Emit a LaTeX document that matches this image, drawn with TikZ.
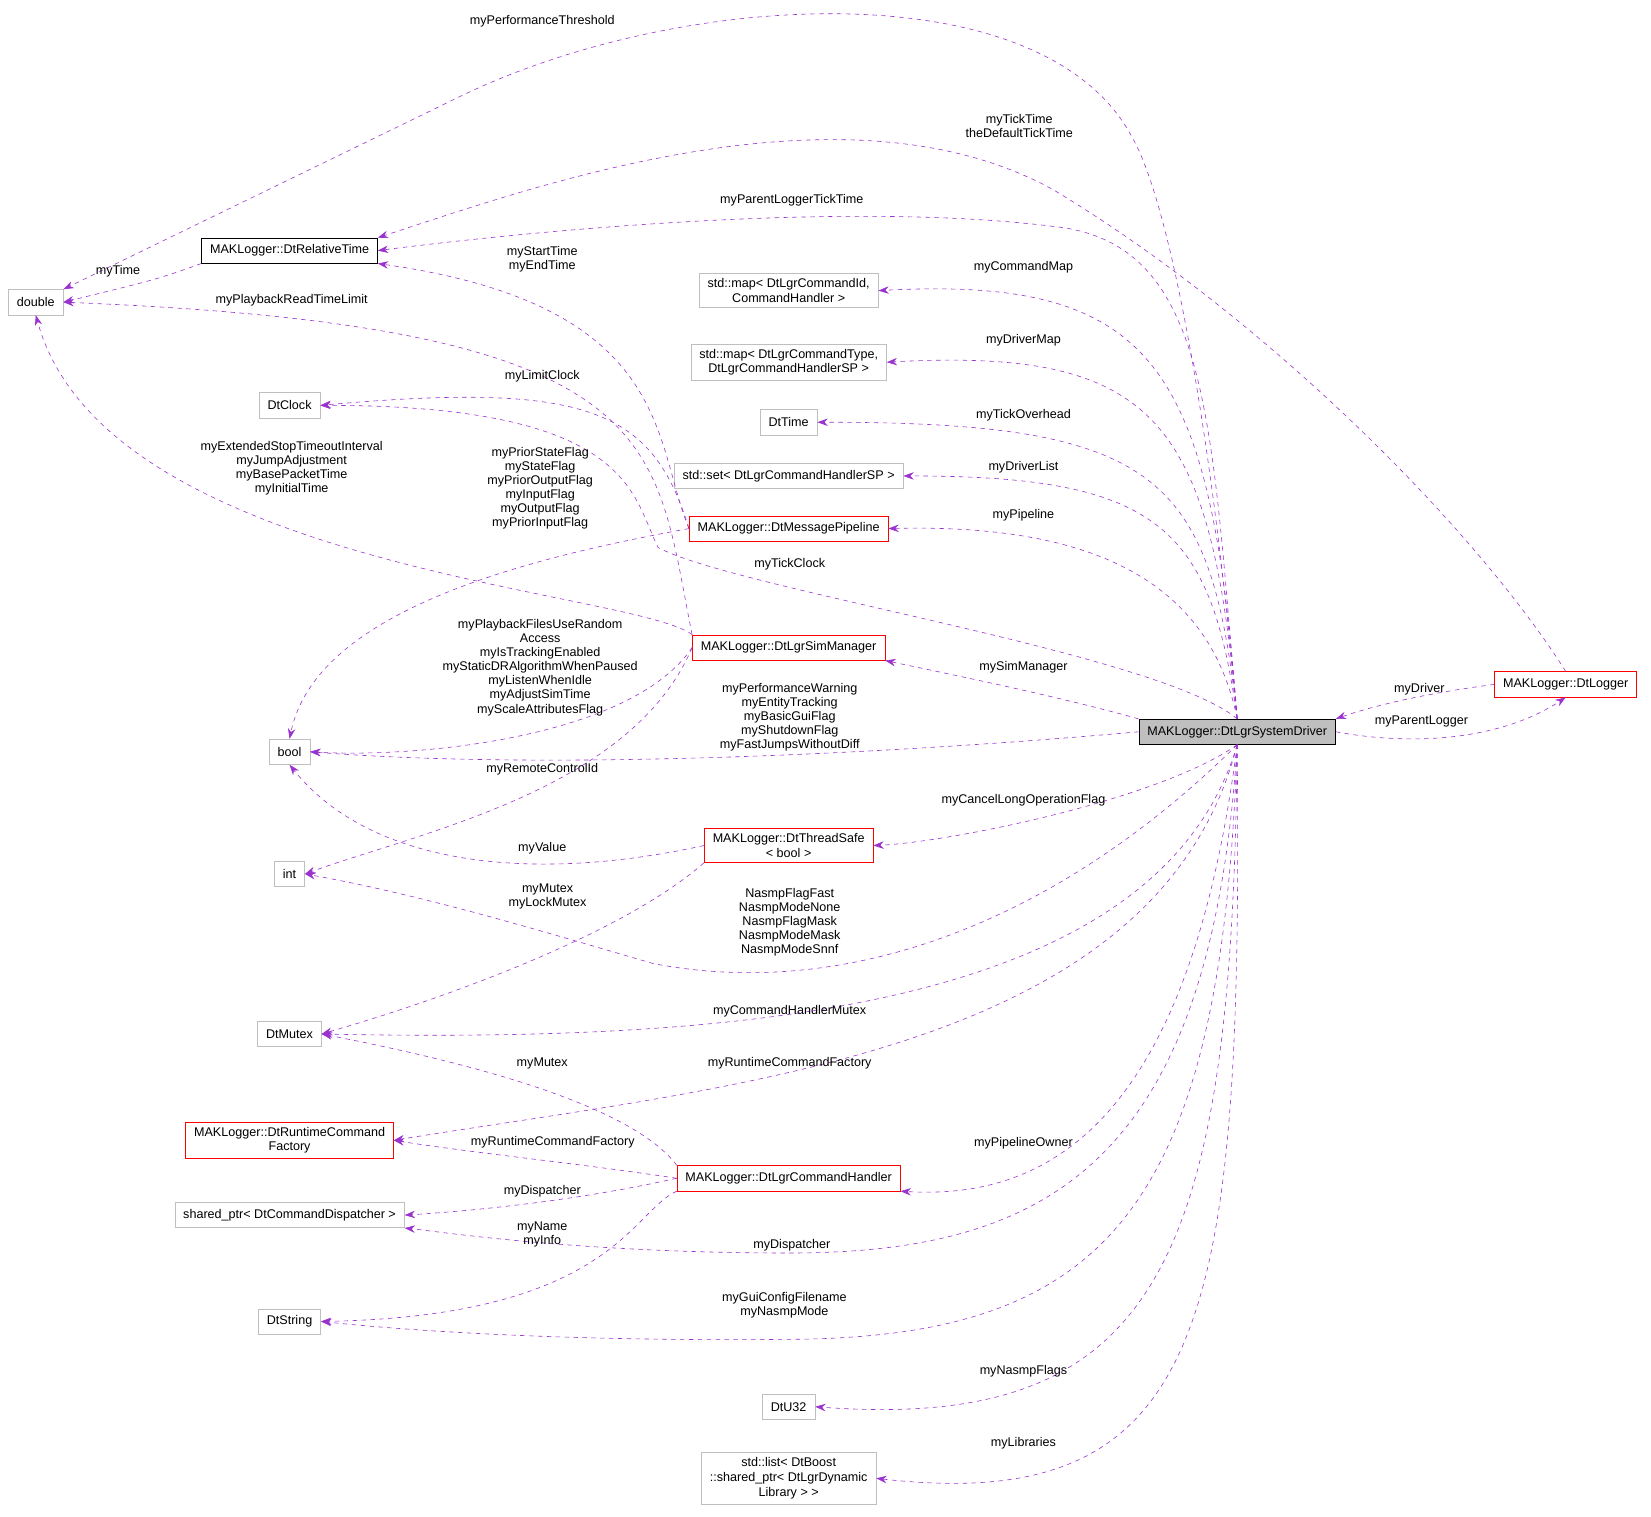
\documentclass[tikz,border=0pt]{standalone}
\usepackage{fontspec}
\setmainfont{Liberation Sans}
\usetikzlibrary{arrows.meta}
\definecolor{edgepurple}{HTML}{9A32CD}
\definecolor{boxgray}{HTML}{BFBFBF}
\tikzset{
  cls/.style={draw=boxgray, fill=white, font=\fontsize{8.5}{10}\selectfont, align=center,
    inner xsep=0.2cm, minimum height=0.6cm},
  redcls/.style={cls, draw=red},
  refcls/.style={cls, draw=black},
  maincls/.style={cls, draw=black, fill=boxgray},
  uses/.style={draw=edgepurple, dashed, -{Stealth[length=7pt,width=5pt]}, fill=none},
  lbl/.style={font=\fontsize{8.5}{9.5}\selectfont, align=center, inner sep=0pt}
}
\begin{document}
\begin{tikzpicture}[x=0.025cm, y=-0.025cm]
    \useasboundingbox (0,0) rectangle (1568,1440);

    % classes
    \node[maincls] (drv) at (1175,695) {MAKLogger::DtLgrSystemDriver};
    \node[redcls] (log) at (1487,650) {MAKLogger::DtLogger};
    \node[cls] (dbl) at (34,287) {double};
    \node[refcls] (rel) at (275,238) {MAKLogger::DtRelativeTime};
    \node[cls] (clk) at (275,385) {DtClock};
    \node[cls] (bool) at (275,714) {bool};
    \node[cls] (int) at (275,830) {int};
    \node[cls] (mtx) at (275,982) {DtMutex};
    \node[redcls] (rcf) at (275,1083) {MAKLogger::DtRuntimeCommand\\Factory};
    \node[cls] (sp) at (275,1154) {shared\_ptr< DtCommandDispatcher >};
    \node[cls] (dstr) at (275,1255) {DtString};
    \node[cls] (cmap) at (749,276) {std::map< DtLgrCommandId,\\CommandHandler >};
    \node[cls] (dmap) at (749,344) {std::map< DtLgrCommandType,\\DtLgrCommandHandlerSP >};
    \node[cls] (tim) at (749,401) {DtTime};
    \node[cls] (set) at (749,452) {std::set< DtLgrCommandHandlerSP >};
    \node[redcls] (pipe) at (749,502) {MAKLogger::DtMessagePipeline};
    \node[redcls] (sim) at (749,615) {MAKLogger::DtLgrSimManager};
    \node[redcls] (ts) at (749,803) {MAKLogger::DtThreadSafe\\< bool >};
    \node[redcls] (ch) at (749,1119) {MAKLogger::DtLgrCommandHandler};
    \node[cls] (u32) at (749,1336) {DtU32};
    \node[cls] (lst) at (749,1404) {std::list< DtBoost\\::shared\_ptr< DtLgrDynamic\\Library > >};

    % members
    \draw[uses] (drv.north) .. controls (1150,400) and (1110,190) .. (1075,130) .. controls (990,-30) and (640,-10) .. (430,95) -- (dbl.north east);
    \draw[uses] (drv.north) .. controls (1150,400) and (1150,230) .. (1000,215) .. controls (800,190) and (500,220) .. (rel.east);
    \draw[uses] (log.north) .. controls (1400,500) and (1200,300) .. (1000,180) .. controls (800,70) and (500,180) .. (rel.north east);
    \draw[uses] (rel.south west) .. controls (150,265) .. (dbl.east);
    \draw[uses] (pipe.west) .. controls (620,420) and (640,290) .. (rel.south east);
    \draw[uses] (sim.north west) .. controls (620,420) and (640,310) .. (dbl.east);
    \draw[uses] (pipe.west) .. controls (620,390) and (560,362) .. (clk.east);
    \draw[uses] (drv.north) .. controls (1100,620) and (700,560) .. (625,520) .. controls (600,470) and (600,385) .. (clk.east);
    \draw[uses] (sim.north west) .. controls (600,560) and (100,540) .. (dbl.south);
    \draw[uses] (pipe.west) .. controls (500,530) and (300,580) .. (bool.north);
    \draw[uses] (sim.west) .. controls (600,700) and (400,720) .. (bool.east);
    \draw[uses] (sim.west) .. controls (600,750) and (400,790) .. (int.east);
    \draw[uses] (drv.west) .. controls (800,720) and (500,730) .. (bool.east);
    \draw[uses] (ts.west) .. controls (500,840) and (350,820) .. (bool.south);
    \draw[uses] (drv.north west) .. controls (1000,660) and (900,640) .. (sim.south east);
    \draw[uses] (drv.south) .. controls (1100,760) and (900,800) .. (ts.east);
    \draw[uses] (drv.south) .. controls (1000,880) and (800,950) .. (620,915) .. controls (500,880) and (400,850) .. (int.east);
    \draw[uses] (ts.south west) .. controls (600,880) and (450,940) .. (mtx.east);
    \draw[uses] (drv.south) .. controls (1100,960) and (700,990) .. (mtx.east);
    \draw[uses] (ch.north west) .. controls (600,1050) and (450,1010) .. (mtx.east);
    \draw[uses] (drv.south) .. controls (1100,1000) and (700,1030) .. (rcf.east);
    \draw[uses] (ch.west) .. controls (550,1105) and (450,1095) .. (rcf.east);
    \draw[uses] (ch.west) .. controls (550,1140) and (450,1150) .. (sp.east);
    \draw[uses] (drv.south) .. controls (1150,1100) and (1000,1190) .. (750,1190) .. controls (550,1190) and (420,1170) .. (sp.south east);
    \draw[uses] (drv.south) .. controls (1130,1060) and (1000,1140) .. (ch.south east);
    \draw[uses] (ch.south west) .. controls (600,1150) and (580,1250) .. (dstr.east);
    \draw[uses] (drv.south) .. controls (1160,1150) and (1050,1270) .. (750,1272) .. controls (550,1274) and (400,1265) .. (dstr.east);
    \draw[uses] (drv.south) .. controls (1170,1200) and (1100,1360) .. (u32.east);
    \draw[uses] (drv.south) .. controls (1180,1250) and (1150,1440) .. (lst.east);
    \draw[uses] (drv.north) .. controls (1150,350) and (1100,262) .. (cmap.east);
    \draw[uses] (drv.north) .. controls (1150,400) and (1100,330) .. (dmap.east);
    \draw[uses] (drv.north) .. controls (1150,450) and (1100,401) .. (tim.east);
    \draw[uses] (drv.north) .. controls (1150,500) and (1100,452) .. (set.east);
    \draw[uses] (drv.north) .. controls (1150,560) and (1050,497) .. (pipe.east);
    \draw[uses] (log.west) .. controls (1380,655) and (1320,665) .. (drv.north east);
    \draw[uses] (drv.east) .. controls (1350,710) and (1430,700) .. (log.south);

    % labels
    \node[lbl] (l1) at (515,20) {myPerformanceThreshold};
    \node[lbl] (l2) at (968,120) {myTickTime\\theDefaultTickTime};
    \node[lbl] (l3) at (752,190) {myParentLoggerTickTime};
    \node[lbl] (l4) at (112,258) {myTime};
    \node[lbl] (l5) at (515,246) {myStartTime\\myEndTime};
    \node[lbl] (l6) at (277,285) {myPlaybackReadTimeLimit};
    \node[lbl] (l7) at (515,357) {myLimitClock};
    \node[lbl] (l8) at (277,445) {myExtendedStopTimeoutInterval\\myJumpAdjustment\\myBasePacketTime\\myInitialTime};
    \node[lbl] (l9) at (513,464) {myPriorStateFlag\\myStateFlag\\myPriorOutputFlag\\myInputFlag\\myOutputFlag\\myPriorInputFlag};
    \node[lbl] (l10) at (750,536) {myTickClock};
    \node[lbl] (l11) at (513,634) {myPlaybackFilesUseRandom\\Access\\myIsTrackingEnabled\\myStaticDRAlgorithmWhenPaused\\myListenWhenIdle\\myAdjustSimTime\\myScaleAttributesFlag};
    \node[lbl] (l12) at (750,681) {myPerformanceWarning\\myEntityTracking\\myBasicGuiFlag\\myShutdownFlag\\myFastJumpsWithoutDiff};
    \node[lbl] (l13) at (515,731) {myRemoteControlId};
    \node[lbl] (l14) at (515,806) {myValue};
    \node[lbl] (l15) at (520,851) {myMutex\\myLockMutex};
    \node[lbl] (l16) at (750,876) {NasmpFlagFast\\NasmpModeNone\\NasmpFlagMask\\NasmpModeMask\\NasmpModeSnnf};
    \node[lbl] (l17) at (750,960) {myCommandHandlerMutex};
    \node[lbl] (l18) at (515,1010) {myMutex};
    \node[lbl] (l19) at (750,1010) {myRuntimeCommandFactory};
    \node[lbl] (l20) at (525,1085) {myRuntimeCommandFactory};
    \node[lbl] (l21) at (515,1131) {myDispatcher};
    \node[lbl] (l22) at (515,1172) {myName\\myInfo};
    \node[lbl] (l23) at (752,1183) {myDispatcher};
    \node[lbl] (l24) at (745,1240) {myGuiConfigFilename\\myNasmpMode};
    \node[lbl] (l25) at (972,254) {myCommandMap};
    \node[lbl] (l26) at (972,323) {myDriverMap};
    \node[lbl] (l27) at (972,394) {myTickOverhead};
    \node[lbl] (l28) at (972,444) {myDriverList};
    \node[lbl] (l29) at (972,489) {myPipeline};
    \node[lbl] (l30) at (972,634) {mySimManager};
    \node[lbl] (l31) at (972,760) {myCancelLongOperationFlag};
    \node[lbl] (l32) at (972,1086) {myPipelineOwner};
    \node[lbl] (l33) at (972,1302) {myNasmpFlags};
    \node[lbl] (l34) at (972,1371) {myLibraries};
    \node[lbl] (l35) at (1348,655) {myDriver};
    \node[lbl] (l36) at (1350,685) {myParentLogger};
\end{tikzpicture}
\end{document}
